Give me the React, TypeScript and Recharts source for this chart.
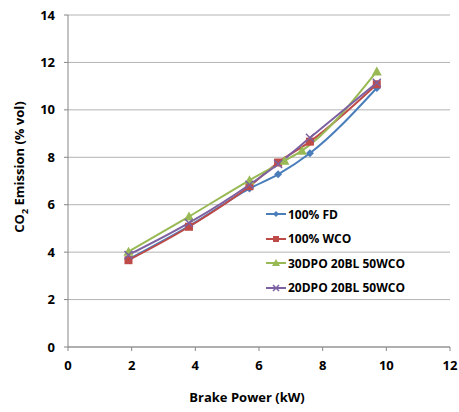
import React from 'react';
import { LineChart, Line, XAxis, YAxis, CartesianGrid } from 'recharts';

const power = [1.9, 3.8, 5.7, 6.6, 7.6, 9.7];
const greenPower = [1.9, 3.8, 5.7, 6.8, 7.35, 9.7];
const fd = [3.7, 5.1, 6.68, 7.28, 8.17, 10.92];
const wco = [3.66, 5.07, 6.78, 7.78, 8.66, 11.08];
const dpo30 = [4.02, 5.5, 7.03, 7.85, 8.28, 11.62];
const dpo20 = [3.88, 5.23, 6.84, 7.72, 8.82, 11.14];
const xTicks = [0, 2, 4, 6, 8, 10, 12];
const yTicks = [0, 2, 4, 6, 8, 10, 12, 14];

const series = [
  { name: '100% FD', color: '#4a7ebb', shape: 'diamond', data: power.map((x, i) => ({ x, y: fd[i] })) },
  { name: '100% WCO', color: '#be4b48', shape: 'square', data: power.map((x, i) => ({ x, y: wco[i] })) },
  { name: '30DPO 20BL 50WCO', color: '#98b954', shape: 'triangle', data: greenPower.map((x, i) => ({ x, y: dpo30[i] })) },
  { name: '20DPO 20BL 50WCO', color: '#7d60a0', shape: 'cross', data: power.map((x, i) => ({ x, y: dpo20[i] })) },
];

const font = 'Open Sans, Liberation Sans, sans-serif';

function Marker({ cx, cy, shape, color, s = 4 }: any) {
  if (cx == null || cy == null) return null;
  if (shape === 'diamond')
    return <path d={`M${cx},${cy - s} L${cx + s},${cy} L${cx},${cy + s} L${cx - s},${cy} Z`} fill={color} />;
  if (shape === 'square')
    return <rect x={cx - s} y={cy - s} width={s * 2} height={s * 2} fill={color} />;
  if (shape === 'triangle')
    return <path d={`M${cx},${cy - s - 1} L${cx + s + 1},${cy + s} L${cx - s - 1},${cy + s} Z`} fill={color} />;
  return (
    <path d={`M${cx - s},${cy - s} L${cx + s},${cy + s} M${cx + s},${cy - s} L${cx - s},${cy + s}`} stroke={color} strokeWidth={1.5} />
  );
}

const LegendBox = () => (
  <div style={{ position: 'absolute', left: 266, top: 202, fontFamily: font, fontWeight: 700, fontSize: 12, color: '#000' }}>
    {series.map((s) => (
      <div key={s.name} style={{ display: 'flex', alignItems: 'center', height: 24.5 }}>
        <svg width={20} height={10} style={{ marginRight: 2 }}>
          <line x1={0} y1={5} x2={20} y2={5} stroke={s.color} strokeWidth={2} />
          <Marker cx={10} cy={5} shape={s.shape} color={s.color} s={3} />
        </svg>
        <span>{s.name}</span>
      </div>
    ))}
  </div>
);

const YLabel = () => (
  <text transform="translate(24,167) rotate(-90)" textAnchor="middle" fontFamily={font} fontWeight={700} fontSize={13} fill="#000">
    CO<tspan fontSize={9} dy={4}>2</tspan><tspan dy={-4}> Emission (% vol)</tspan>
  </text>
);

const XLabel = () => (
  <text x={247} y={402} textAnchor="middle" fontFamily={font} fontWeight={700} fontSize={13} fill="#000">
    Brake Power (kW)
  </text>
);

export default function App() {
  return (
    <div style={{ position: 'absolute', left: 0, top: 0, width: 459, height: 412, background: '#fff' }}>
      <LineChart width={459} height={412} margin={{ top: 15, right: 9, bottom: 15, left: 18 }}>
        <CartesianGrid horizontal vertical={false} stroke="#b3b3b3" />
        <XAxis
          type="number"
          dataKey="x"
          domain={[0, 12]}
          ticks={xTicks}
          stroke="#868686"
          tickSize={4}
          tickMargin={10}
          height={50}
          tick={{ fill: '#000', fontFamily: font, fontWeight: 700, fontSize: 13 }}
          label={<XLabel />}
        />
        <YAxis
          type="number"
          domain={[0, 14]}
          ticks={yTicks}
          stroke="#868686"
          tickSize={4}
          tickMargin={9}
          width={50}
          tick={{ fill: '#000', fontFamily: font, fontWeight: 700, fontSize: 13 }}
          label={<YLabel />}
        />
        {series.map((s) => (
          <Line
            key={s.name}
            data={s.data}
            dataKey="y"
            name={s.name}
            type="monotone"
            stroke={s.color}
            strokeWidth={2}
            isAnimationActive={false}
            dot={(p: any) => <Marker key={`${s.name}-${p.index}`} cx={p.cx} cy={p.cy} shape={s.shape} color={s.color} />}
            activeDot={false}
          />
        ))}
      </LineChart>
      <LegendBox />
    </div>
  );
}
